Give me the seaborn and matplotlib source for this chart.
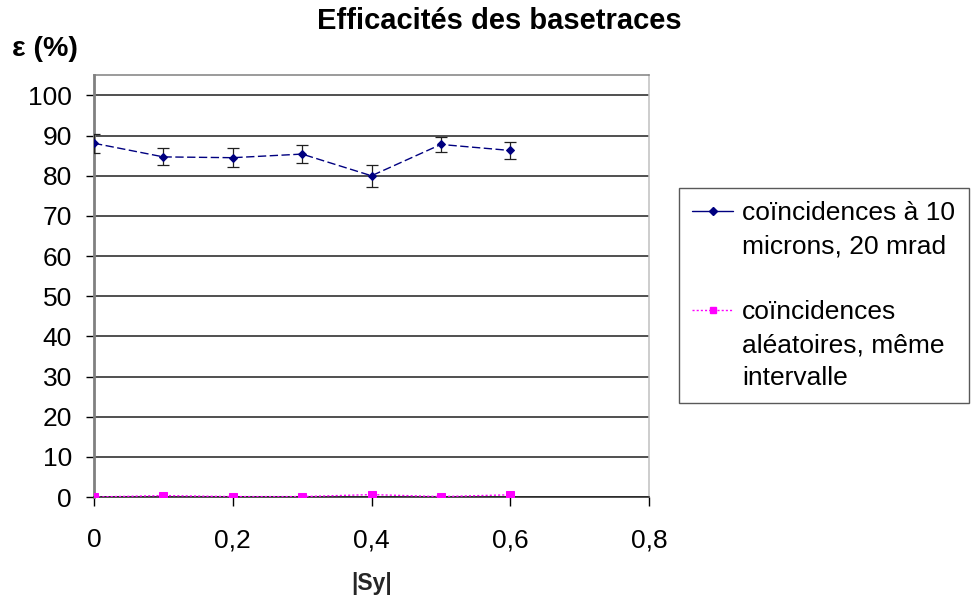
import numpy as np
import pandas as pd
import matplotlib
matplotlib.use('Agg')
import matplotlib.pyplot as plt
from matplotlib.lines import Line2D
import seaborn as sns

# Data
sy = [0.0, 0.1, 0.2, 0.3, 0.4, 0.5, 0.6]
eff_coinc = [88.1, 84.7, 84.5, 85.4, 80.0, 87.8, 86.3]
err_coinc = [2.4, 2.1, 2.4, 2.3, 2.7, 1.8, 2.2]
eff_random = [0.0, 0.35, 0.1, 0.1, 0.6, 0.1, 0.55]
label_coinc = ["coïncidences à 10", "microns, 20 mrad"]
label_random = ["coïncidences", "aléatoires, même", "intervalle"]
x_ticks = [0, 0.2, 0.4, 0.6, 0.8]
x_ticklabels = ['0', '0,2', '0,4', '0,6', '0,8']
y_ticks = list(range(0, 101, 10))

sns.set_style('white')
plt.rcParams['font.family'] = ['Liberation Sans', 'DejaVu Sans']
plt.rcParams['text.color'] = 'black'
plt.rcParams['xtick.color'] = 'black'
plt.rcParams['ytick.color'] = 'black'

df = pd.DataFrame({'sy': sy, 'coinc': eff_coinc, 'random': eff_random})

fig = plt.figure(figsize=(9.71, 5.97), dpi=100)
ax = fig.add_axes([0.0968, 0.1675, 0.5716, 0.7069])

blue = '#000080'
pink = '#FF00FF'

ax.errorbar(df['sy'], df['coinc'], yerr=err_coinc, fmt='none', ecolor='#202020',
            elinewidth=0.9, capsize=4, capthick=0.9, zorder=3)
sns.lineplot(data=df, x='sy', y='coinc', ax=ax, color=blue, marker='D',
             markersize=4.5, linewidth=1.0, linestyle=(0, (6, 2.5)),
             markeredgecolor=blue, zorder=4, legend=False)
sns.lineplot(data=df, x='sy', y='random', ax=ax, color=pink, marker='s',
             markersize=5.5, linewidth=1.0, linestyle=(0, (1.5, 1.5)),
             markeredgecolor=pink, zorder=4, legend=False)

ax.set_xlim(0, 0.8)
ax.set_ylim(0, 105.1)
ax.set_xticks(x_ticks)
ax.set_xticklabels(x_ticklabels)
ax.set_yticks(y_ticks)
ax.yaxis.grid(True, color='#202020', linewidth=1.1)
ax.set_axisbelow(True)
ax.tick_params(axis='y', labelsize=19, length=6, pad=10, left=True, width=1.0)
ax.tick_params(axis='x', labelsize=19, length=6.5, pad=16, bottom=True, width=1.0)
ax.spines['top'].set_color('#808080')
ax.spines['left'].set_color('#808080')
ax.spines['right'].set_color('#c0c0c0')
ax.spines['bottom'].set_color('#202020')
for s in ax.spines.values():
    s.set_linewidth(1.1)
ax.spines['left'].set_linewidth(2.0)
ax.set_ylabel('')
ax.set_xlabel('|Sy|', fontsize=16.5, fontweight='bold', va='center')
ax.xaxis.set_label_coords(0.5, -0.2038)

fig.text(0.514, 0.9645, 'Efficacités des basetraces', ha='center', va='center',
         fontsize=21, fontweight='bold')
fig.text(0.0124, 0.918, 'ε (%)', ha='left', va='center', fontsize=20.5, fontweight='bold')

# legend: handle sits beside the first line of each label
blank = Line2D([], [], linestyle='none')
h_blue = Line2D([], [], color=blue, linewidth=1.0, marker='D', markersize=4)
h_pink = Line2D([], [], color=pink, linewidth=1.0, linestyle=(0, (1.5, 1.5)),
                marker='s', markersize=5)
handles = [h_blue, blank, blank, h_pink, blank, blank]
labels = [label_coinc[0], label_coinc[1], ' ', label_random[0], label_random[1], label_random[2]]
leg = fig.legend(handles, labels, loc='upper left', bbox_to_anchor=(679 / 971, 1 - 188 / 597),
                 fontsize=19, frameon=True, fancybox=False, edgecolor='#303030',
                 handlelength=1.55, labelspacing=0.34, borderpad=0.5, handletextpad=0.35,
                 borderaxespad=0)
leg.get_frame().set_linewidth(1.0)

fig.savefig('out.png', dpi=100)
